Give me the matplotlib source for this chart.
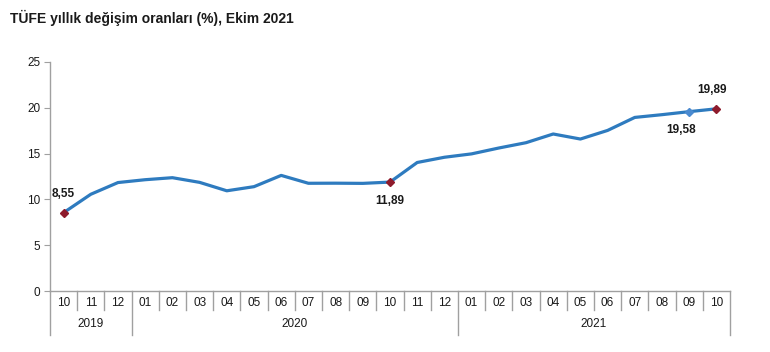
import matplotlib
matplotlib.use("Agg")
import matplotlib.pyplot as plt
import numpy as np

plt.rcParams['font.family'] = ['Liberation Sans', 'DejaVu Sans']

months = ["10", "11", "12", "01", "02", "03", "04", "05", "06", "07", "08", "09",
          "10", "11", "12", "01", "02", "03", "04", "05", "06", "07", "08", "09", "10"]
years = ["2019", "2020", "2021"]
year_counts = [3, 12, 10]
values = [8.55, 10.56, 11.84, 12.15, 12.37, 11.86, 10.94, 11.39, 12.62, 11.76, 11.77, 11.75,
          11.89, 14.03, 14.60, 14.97, 15.61, 16.19, 17.14, 16.59, 17.53, 18.95, 19.25, 19.58, 19.89]
red_idx = [0, 12, 24]
blue_idx = [23]
label_pos = {0: ("above", 0), 12: ("below", 0), 23: ("below", -6), 24: ("above", -3)}

line_color = "#2E7BBF"
red_color = "#8E1B2C"
axis_gray = "#A0A0A0"

fig = plt.figure(figsize=(7.7, 3.52), dpi=100)
ax = fig.add_axes([50/770, 1-291/352, 680/770, (291-62)/352])
x = np.arange(len(values))
ax.plot(x, values, color=line_color, lw=2.3, solid_joinstyle='round', zorder=3)
ax.plot(x[red_idx], [values[i] for i in red_idx], 'D', color=red_color, ms=4.5, zorder=4)
ax.plot(x[blue_idx], [values[i] for i in blue_idx], 'D', color="#4A8AD0", ms=4.5, zorder=4)

for i, (pos, dx) in label_pos.items():
    txt = f"{values[i]:.2f}".replace(".", ",")
    if pos == "above":
        ax.annotate(txt, (x[i], values[i]), xytext=(dx, 9), textcoords='offset points',
                    ha='center', va='bottom', fontsize=8.5, fontweight='bold', color='#1a1a1a')
    else:
        ax.annotate(txt, (x[i], values[i]), xytext=(dx, -9), textcoords='offset points',
                    ha='center', va='top', fontsize=8.5, fontweight='bold', color='#1a1a1a')

ax.set_xlim(-0.5, len(values) - 0.5)
ax.set_ylim(0, 25)
ax.set_yticks(range(0, 26, 5))
ax.tick_params(axis='y', length=4, color=axis_gray, labelsize=8.5, labelcolor='#1a1a1a', pad=3)
ax.set_xticks([])
for s in ['top', 'right']:
    ax.spines[s].set_visible(False)
for s in ['left', 'bottom']:
    ax.spines[s].set_color(axis_gray)
    ax.spines[s].set_linewidth(1.0)

tr = ax.get_xaxis_transform()
ax_h_px = 291 - 62
short = -19 / ax_h_px
long_ = -44 / ax_h_px
month_y = -12 / ax_h_px
year_y = -33 / ax_h_px

for i, m in enumerate(months):
    ax.text(i, month_y, m, transform=tr, ha='center', va='center', fontsize=8.5, color='#1a1a1a')

boundaries = np.cumsum([0] + year_counts) - 0.5
for b in np.arange(-0.5, len(values), 1.0):
    is_year = np.any(np.isclose(boundaries, b))
    ax.plot([b, b], [0, long_ if is_year else short], transform=tr, color=axis_gray,
            lw=1.0, clip_on=False)

start = 0
for yname, cnt in zip(years, year_counts):
    center = start + (cnt - 1) / 2
    ax.text(center, year_y, yname, transform=tr, ha='center', va='center', fontsize=8.5, color='#1a1a1a')
    start += cnt

fig.text(10/770, 1-18/352, "TÜFE yıllık değişim oranları (%), Ekim 2021", ha='left', va='center',
         fontsize=10, fontweight='bold', color='#1a1a1a')

fig.savefig("out.png", dpi=100)
